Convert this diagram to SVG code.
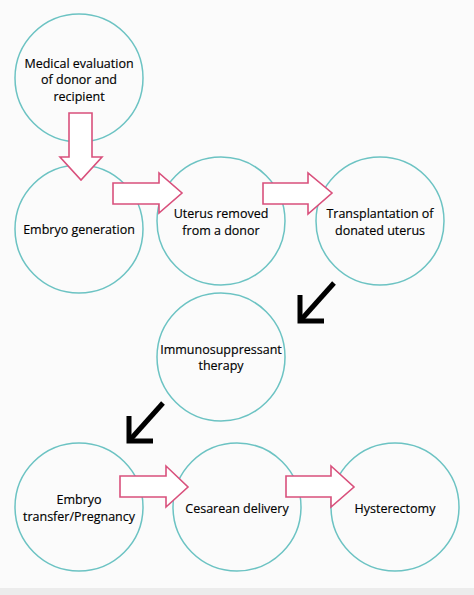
<svg xmlns="http://www.w3.org/2000/svg" width="474" height="595" viewBox="0 0 474 595">
<style>
.node circle{fill:none;stroke:#6cc3c3;stroke-width:1.5}
.node text{font-family:"Open Sans","Noto Sans",sans-serif;font-size:12.5px;font-weight:500;fill:#000;stroke:#000;stroke-width:0.15;text-anchor:middle;dominant-baseline:central}
.pink{fill:#fff;stroke:#d9507c;stroke-width:1.6;stroke-linejoin:miter}
.black{fill:none;stroke:#000;stroke-width:5;stroke-linecap:butt;stroke-linejoin:miter}
</style>
<rect width="474" height="595" fill="#fbfbfb"/>
<rect y="588" width="474" height="7" fill="#ececec"/>
<g id="n1" class="node"><circle cx="79" cy="78" r="64"/><text x="79" y="63">Medical evaluation</text><text x="79" y="79.5">of donor and</text><text x="79" y="96">recipient</text></g>
<g id="n2" class="node"><circle cx="79" cy="229" r="64"/><text x="79" y="229">Embryo generation</text></g>
<g id="n3" class="node"><circle cx="221" cy="221" r="64"/><text x="221" y="213">Uterus removed</text><text x="221" y="230">from a donor</text></g>
<g id="n4" class="node"><circle cx="380" cy="221" r="64"/><text x="380" y="213">Transplantation of</text><text x="380" y="230">donated uterus</text></g>
<g id="n5" class="node"><circle cx="221" cy="357" r="64"/><text x="221" y="349">Immunosuppressant</text><text x="221" y="365">therapy</text></g>
<g id="n6" class="node"><circle cx="79" cy="507" r="64"/><text x="79" y="499">Embryo</text><text x="79" y="516">transfer/Pregnancy</text></g>
<g id="n7" class="node"><circle cx="237" cy="507" r="64"/><text x="237" y="508">Cesarean delivery</text></g>
<g id="n8" class="node"><circle cx="395" cy="507" r="64"/><text x="395" y="508">Hysterectomy</text></g>
<g id="connectors">
<path class="pink" d="M69 113 H92 V157 H102 L81 180 L60 157 H69 Z"/>
<path class="pink" d="M113 183 H159 V173 L182 193 L159 213 V204 H113 Z"/>
<path class="pink" d="M263 183 H308 V173 L332 193 L308 214 V204 H263 Z"/>
<path class="pink" d="M120 476 H166 V466 L188 487 L166 507 V497 H120 Z"/>
<path class="pink" d="M286 476 H331 V466 L354 487 L331 507 V497 H286 Z"/>
<path class="black" d="M334 283 L300 321"/>
<path class="black" d="M300 295 V321 H324"/>
<path class="black" d="M163 403 L129 441"/>
<path class="black" d="M129 416 V441 H153"/>
</g>
</svg>
